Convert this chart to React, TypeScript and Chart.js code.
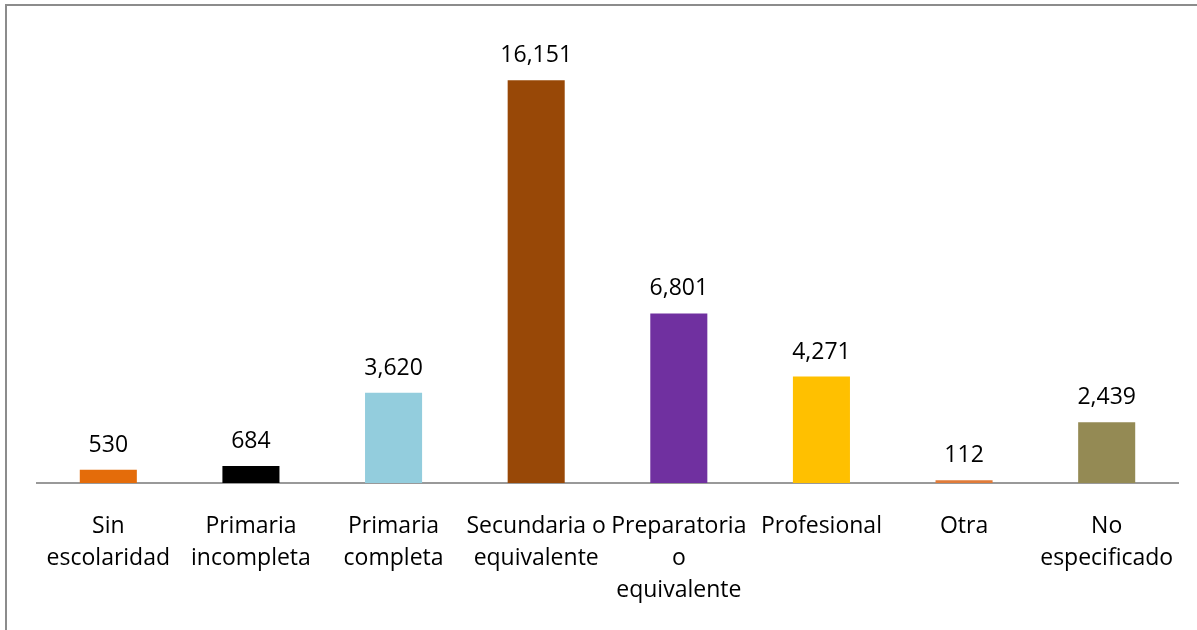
import React, { useEffect, useRef } from "react";
import { Chart, registerables } from "chart.js";

Chart.register(...registerables);

const categories: string[][] = [
  ["Sin", "escolaridad"],
  ["Primaria", "incompleta"],
  ["Primaria", "completa"],
  ["Secundaria o", "equivalente"],
  ["Preparatoria", "o", "equivalente"],
  ["Profesional"],
  ["Otra"],
  ["No", "especificado"],
];
const values: number[] = [530, 684, 3620, 16151, 6801, 4271, 112, 2439];
const barColors: string[] = [
  "#E46C0A",
  "#000000",
  "#93CDDD",
  "#984807",
  "#7030A0",
  "#FFC000",
  "#E07B39",
  "#948A54",
];
const axisMax = 18000;

const FONT = "'Open Sans', sans-serif";

const valueLabels = {
  id: "valueLabels",
  afterDatasetsDraw(chart: any) {
    const ctx = chart.ctx;
    const meta = chart.getDatasetMeta(0);
    ctx.save();
    ctx.font = `23px ${FONT}`;
    ctx.fillStyle = "#000000";
    ctx.textAlign = "center";
    ctx.textBaseline = "alphabetic";
    meta.data.forEach((bar: any, i: number) => {
      const v = values[i];
      ctx.fillText(v.toLocaleString("en-US"), bar.x, bar.y - 18);
    });
    ctx.restore();
  },
};

export default function App() {
  const ref = useRef<HTMLCanvasElement | null>(null);
  useEffect(() => {
    if (!ref.current) return;
    const chart = new Chart(ref.current, {
      type: "bar",
      data: {
        labels: categories as any,
        datasets: [
          {
            data: values,
            backgroundColor: barColors,
            borderWidth: 0,
            categoryPercentage: 1,
            barPercentage: 0.4,
          },
        ],
      },
      options: {
        animation: false,
        responsive: false,
        maintainAspectRatio: false,
        events: [],
        layout: { padding: { left: 37, right: 19, top: 34, bottom: 67 } },
        plugins: { legend: { display: false }, tooltip: { enabled: false } },
        scales: {
          x: {
            grid: { display: false, drawTicks: false, tickLength: 0 },
            border: { display: true, color: "#999999", width: 2 },
            ticks: {
              color: "#000000",
              font: { family: FONT, size: 23, lineHeight: 1.39 },
              padding: 27,
              maxRotation: 0,
              autoSkip: false,
            },
            afterFit: (scale: any) => {
              scale.paddingLeft = 0;
              scale.paddingRight = 0;
            },
          },
          y: {
            display: false,
            min: 0,
            max: axisMax,
          },
        },
      },
      plugins: [valueLabels],
    });
    return () => chart.destroy();
  }, []);
  return (
    <div
      style={{
        position: "fixed",
        left: 0,
        top: 0,
        width: 1197,
        height: 630,
        overflow: "hidden",
        background: "#ffffff",
      }}
    >
      <canvas
        ref={ref}
        width={1197}
        height={700}
        style={{ position: "absolute", left: 0, top: 0, width: 1197, height: 700 }}
      />
      <div
        style={{
          position: "absolute",
          left: 5,
          top: 4,
          width: 1300,
          height: 700,
          borderTop: "2px solid #8c8c8c",
          borderLeft: "2px solid #8c8c8c",
          pointerEvents: "none",
        }}
      />
    </div>
  );
}
